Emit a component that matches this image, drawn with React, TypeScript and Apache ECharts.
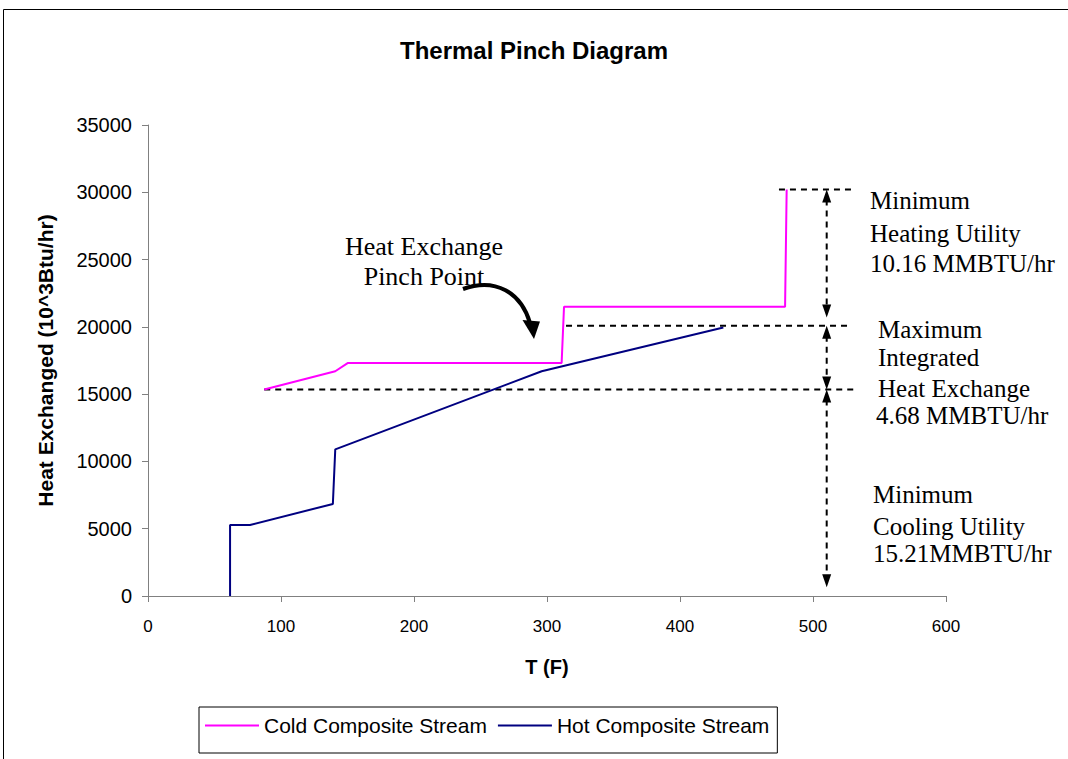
import React, { useEffect, useRef } from "react";
import * as echarts from "echarts";

// Axis ticks
const tempMin = 0;
const tempMax = 600;
const tempStep = 100;
const heatMin = 0;
const heatMax = 35000;
const heatStep = 5000;

// Cold composite stream (T in F, heat in 10^3 Btu/hr)
const coldT = [87.4, 140.8, 150.1, 311, 312.8, 479, 480.2];
const coldQ = [15350, 16700, 17310, 17310, 21500, 21500, 30200];

// Hot composite stream
const hotT = [61.7, 61.7, 76.7, 139, 140.8, 296, 432.6];
const hotQ = [0, 5280, 5280, 6840, 10900, 16700, 19950];

// Dashed reference levels: [fromT, toT, heat]
const guideFrom = [474.4, 314.3, 87.4];
const guideTo = [531.6, 526.3, 533.8];
const guideQ = [30200, 20080, 15350];

// Double-headed dimension arrows at this temperature: [topQ, bottomQ]
const arrowT = 510.3;
const arrowTop = [30200, 20080, 15350];
const arrowBottom = [20700, 15350, 650];

// Annotation texts
const heatingLines = ["Minimum", "Heating Utility", "10.16 MMBTU/hr"];
const integratedLines = ["Maximum", "Integrated", "Heat Exchange", "4.68 MMBTU/hr"];
const coolingLines = ["Minimum", "Cooling Utility", "15.21MMBTU/hr"];
const pinchLines = ["Heat Exchange", "Pinch Point"];

const SANS = "'Liberation Sans', Arial, Helvetica, sans-serif";
const SERIF = "'Liberation Serif', 'Times New Roman', serif";

export default function App() {
  const ref = useRef<HTMLDivElement>(null);

  useEffect(() => {
    const chart = echarts.init(ref.current!, null, { renderer: "svg" });

    const guideSeries = guideQ.map((q, i) => ({
      type: "line",
      data: [
        [guideFrom[i], q],
        [guideTo[i], q],
      ],
      symbol: "none",
      silent: true,
      z: 1,
      lineStyle: { color: "#000", width: 2, type: [6, 5] },
    }));

    chart.setOption({
      animation: false,
      backgroundColor: "#fff",
      title: {
        text: "Thermal Pinch Diagram",
        left: "center",
        top: 33,
        textStyle: { fontFamily: SANS, fontSize: 24, fontWeight: "bold", color: "#000" },
      },
      legend: {
        data: ["Cold Composite Stream", "Hot Composite Stream"],
        left: 199,
        top: 707,
        padding: [8, 8, 17, 6],
        itemGap: 11,
        itemWidth: 54,
        itemHeight: 2,
        icon: "rect",
        borderColor: "#000",
        borderWidth: 1,
        textStyle: { fontFamily: SANS, fontSize: 21, color: "#000" },
      },
      grid: { left: 148, right: 122, top: 125, bottom: 163 },
      xAxis: {
        type: "value",
        min: tempMin,
        max: tempMax,
        interval: tempStep,
        name: "T (F)",
        nameLocation: "middle",
        nameGap: 61,
        nameTextStyle: { fontFamily: SANS, fontSize: 20, fontWeight: "bold", color: "#000" },
        axisLine: { show: true, lineStyle: { color: "#808080", width: 1 } },
        axisTick: { show: true, inside: false, length: 6, lineStyle: { color: "#808080" } },
        axisLabel: { fontFamily: SANS, fontSize: 17, color: "#000", margin: 22 },
        splitLine: { show: false },
      },
      yAxis: {
        type: "value",
        min: heatMin,
        max: heatMax,
        interval: heatStep,
        name: "Heat Exchanged (10^3Btu/hr)",
        nameLocation: "middle",
        nameGap: 92,
        nameTextStyle: { fontFamily: SANS, fontSize: 21, fontWeight: "bold", color: "#000" },
        axisLine: { show: true, lineStyle: { color: "#808080", width: 1 } },
        axisTick: { show: true, inside: false, length: 6, lineStyle: { color: "#808080" } },
        axisLabel: {
          fontFamily: SANS,
          fontSize: 20,
          color: "#000",
          margin: 16,
          formatter: (v: number) => String(v),
        },
        splitLine: { show: false },
      },
      series: [
        ...guideSeries,
        {
          name: "Cold Composite Stream",
          type: "line",
          data: coldT.map((t, i) => [t, coldQ[i]]),
          symbol: "none",
          color: "#FF00FF",
          lineStyle: { color: "#FF00FF", width: 2 },
          z: 3,
        },
        {
          name: "Hot Composite Stream",
          type: "line",
          data: hotT.map((t, i) => [t, hotQ[i]]),
          symbol: "none",
          color: "#000080",
          lineStyle: { color: "#000080", width: 2 },
          z: 3,
        },
      ],
    });

    const px = (t: number, q: number) => chart.convertToPixel({ gridIndex: 0 }, [t, q]) as number[];
    const graphics: any[] = [];

    // outer chart frame
    graphics.push({
      type: "rect",
      shape: { x: 3.5, y: 9.5, width: 1100, height: 800 },
      style: { fill: "none", stroke: "#000", lineWidth: 1 },
      silent: true,
      z: 0,
    });

    const head = (x: number, y: number, dir: number) => ({
      type: "polygon",
      shape: {
        points: [
          [x, y],
          [x - 4.5, y - dir * 13],
          [x + 4.5, y - dir * 13],
        ],
      },
      style: { fill: "#000" },
      silent: true,
      z: 10,
    });

    arrowTop.forEach((qTop, i) => {
      const a = px(arrowT, qTop);
      const b = px(arrowT, arrowBottom[i]);
      graphics.push({
        type: "line",
        shape: { x1: a[0], y1: a[1] + 10, x2: b[0], y2: b[1] - 10 },
        style: { stroke: "#000", lineWidth: 2, lineDash: [6, 5] },
        silent: true,
        z: 10,
      });
      graphics.push(head(a[0], a[1], -1));
      graphics.push(head(b[0], b[1], 1));
    });

    const textEl = (s: string, x: number, y: number, size: number, align = "left") => ({
      type: "text",
      x,
      y,
      style: {
        text: s,
        fill: "#000",
        font: `${size}px ${SERIF}`,
        align,
        verticalAlign: "middle",
      },
      silent: true,
      z: 10,
    });

    const heatingY = [200, 233, 263];
    heatingLines.forEach((s, i) => graphics.push(textEl(s, 870, heatingY[i], 25)));
    const integratedY = [329, 357, 388, 415];
    const integratedX = [878, 878, 878, 876];
    integratedLines.forEach((s, i) => graphics.push(textEl(s, integratedX[i], integratedY[i], 25)));
    const coolingY = [494, 526, 553];
    coolingLines.forEach((s, i) => graphics.push(textEl(s, 873, coolingY[i], 25)));
    const pinchY = [246, 276];
    pinchLines.forEach((s, i) => graphics.push(textEl(s, 424, pinchY[i], 26, "center")));

    // curved pinch arrow
    graphics.push({
      type: "bezierCurve",
      shape: { x1: 463, y1: 289, cpx1: 496, cpy1: 277, cpx2: 521, cpy2: 293, x2: 530, y2: 323 },
      style: { stroke: "#000", lineWidth: 4, fill: "none" },
      silent: true,
      z: 10,
    });
    graphics.push({
      type: "polygon",
      shape: { points: [[522.5, 320], [540, 321.5], [534, 339]] },
      style: { fill: "#000" },
      silent: true,
      z: 10,
    });

    chart.setOption({ graphic: graphics });

    return () => chart.dispose();
  }, []);

  return (
    <div
      ref={ref}
      style={{ position: "absolute", left: 0, top: 0, width: 1068, height: 759 }}
    />
  );
}
